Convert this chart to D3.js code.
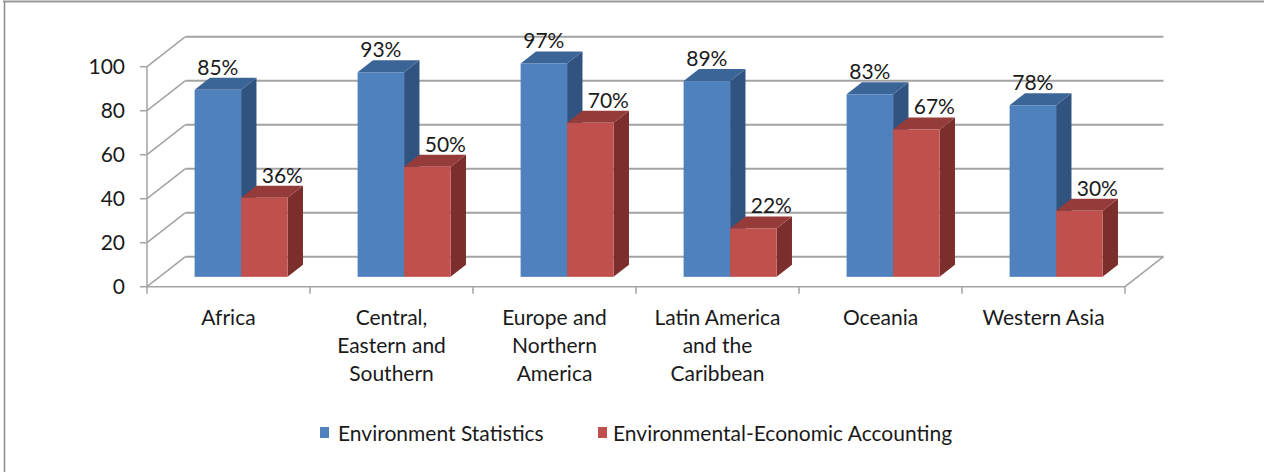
<!DOCTYPE html>
<html>
<head>
<meta charset="utf-8">
<script src="https://cdn.jsdelivr.net/npm/d3@7/dist/d3.min.js"></script>
<style>
  html, body { margin: 0; padding: 0; background: #fff; }
  svg { display: block; }
  text { font-family: Lato, "Open Sans", sans-serif; fill: #1a1a1a; }
</style>
</head>
<body>
<svg id="chart" width="1264" height="472"></svg>
<script>
// Regions and the share of countries (%) with each programme
const categories = [
  ["Africa"],
  ["Central,", "Eastern and", "Southern"],
  ["Europe and", "Northern", "America"],
  ["Latin America", "and the", "Caribbean"],
  ["Oceania"],
  ["Western Asia"]
];
const seriesNames = ["Environment Statistics", "Environmental-Economic Accounting"];
const envStats = [85, 93, 97, 89, 83, 78];
const eeaValues = [36, 50, 70, 22, 67, 30];
const yTicks = [0, 20, 40, 60, 80, 100];

const series = [envStats, eeaValues];
const faceColors = [
  { front: "#4F81BD", top: "#3C6597", side: "#31537F" },
  { front: "#C0504D", top: "#953B39", side: "#7C2E2C" }
];
// horizontal nudge of each series' value labels
const labelShift = [0, 18];
const fontSize = "21px";

const svg = d3.select("#chart");

// Outer frame (top and left edges)
svg.append("line").attr("x1", 3).attr("x2", 1264).attr("y1", 1.5).attr("y2", 1.5)
  .attr("stroke", "#9a9a9a").attr("stroke-width", 2);
svg.append("line").attr("x1", 4.5).attr("x2", 4.5).attr("y1", 1).attr("y2", 472)
  .attr("stroke", "#8a8a8a").attr("stroke-width", 1.5);

// Front plane of the 3-D box
const x0 = 147, x1 = 1125;
const y = d3.scaleLinear().domain([0, 100]).range([286.7, 66.7]);
const xBand = d3.scaleBand().domain(d3.range(categories.length)).range([x0, x1]);

// Oblique depth direction
const ang = 38 * Math.PI / 180;
const depth = d => [d * Math.cos(ang), -d * Math.sin(ang)];
const wallDepth = 48.8;
const [wdx, wdy] = depth(wallDepth);

const grid = svg.append("g").attr("stroke", "#a3a3a3").attr("fill", "none");

// Back wall gridlines + left wall diagonals
yTicks.forEach(t => {
  grid.append("line")
    .attr("x1", x0 + wdx).attr("x2", x1 + wdx)
    .attr("y1", y(t) + wdy).attr("y2", y(t) + wdy)
    .attr("stroke-width", 2);
  grid.append("line")
    .attr("x1", x0).attr("y1", y(t))
    .attr("x2", x0 + wdx).attr("y2", y(t) + wdy)
    .attr("stroke-width", 1.5);
});
// Floor right edge
grid.append("line")
  .attr("x1", x1).attr("y1", y(0))
  .attr("x2", x1 + wdx).attr("y2", y(0) + wdy)
  .attr("stroke-width", 1.5);

// Vertical value axis with ticks and labels
const yAxis = svg.append("g");
yAxis.append("line").attr("x1", x0).attr("x2", x0).attr("y1", y(100)).attr("y2", y(0))
  .attr("stroke", "#a3a3a3").attr("stroke-width", 1.5);
yTicks.forEach(t => {
  yAxis.append("line").attr("x1", x0 - 7).attr("x2", x0).attr("y1", y(t)).attr("y2", y(t))
    .attr("stroke", "#a3a3a3").attr("stroke-width", 1.5);
  yAxis.append("text").attr("x", 125).attr("y", y(t)).attr("dy", "0.36em")
    .attr("text-anchor", "end").style("font-size", fontSize).text(t);
});

// Category axis with ticks at band boundaries
const xAxis = svg.append("g");
xAxis.append("line").attr("x1", x0).attr("x2", x1).attr("y1", y(0)).attr("y2", y(0))
  .attr("stroke", "#a3a3a3").attr("stroke-width", 1.5);
d3.range(categories.length + 1).forEach(i => {
  const xx = x0 + i * xBand.bandwidth();
  xAxis.append("line").attr("x1", xx).attr("x2", xx).attr("y1", y(0)).attr("y2", y(0) + 7)
    .attr("stroke", "#a3a3a3").attr("stroke-width", 1.5);
});
categories.forEach((lines, i) => {
  const t = xAxis.append("text").attr("text-anchor", "middle").style("font-size", fontSize);
  lines.forEach((ln, j) => {
    t.append("tspan").attr("x", xBand(i) + xBand.bandwidth() / 2)
      .attr("y", 325 + j * 28).text(ln);
  });
});

// Bars: front face sits part-way into the box, with a shallow depth
const [fdx, fdy] = depth(16);
const [bdx, bdy] = depth(19.5);
const inner = d3.scaleBand().domain([0, 1])
  .range([xBand.bandwidth() / 2 - 46.5, xBand.bandwidth() / 2 + 46.5]);

const bars = svg.append("g");
const labels = svg.append("g");
categories.forEach((_, i) => {
  series.forEach((vals, s) => {
    const v = vals[i];
    const c = faceColors[s];
    const xl = xBand(i) + inner(s) + fdx;
    const xr = xl + inner.bandwidth();
    const yb = y(0) + fdy;
    const yt = y(v) + fdy;
    // right side
    bars.append("path")
      .attr("d", `M${xr},${yb}L${xr + bdx},${yb + bdy}L${xr + bdx},${yt + bdy}L${xr},${yt}Z`)
      .attr("fill", c.side);
    // top
    bars.append("path")
      .attr("d", `M${xl},${yt}L${xl + bdx},${yt + bdy}L${xr + bdx},${yt + bdy}L${xr},${yt}Z`)
      .attr("fill", c.top);
    // front
    bars.append("rect")
      .attr("x", xl).attr("y", yt).attr("width", xr - xl).attr("height", yb - yt)
      .attr("fill", c.front);
    labels.append("text")
      .attr("x", (xl + xr) / 2 + labelShift[s]).attr("y", yt - 15)
      .attr("text-anchor", "middle").style("font-size", fontSize)
      .text(v + "%");
  });
});

// Legend
const legend = svg.append("g");
const legendItems = [
  { x: 320, textX: 338 },
  { x: 598, textX: 613 }
];
seriesNames.forEach((name, s) => {
  legend.append("rect").attr("x", legendItems[s].x).attr("y", 427)
    .attr("width", 9).attr("height", 11).attr("fill", faceColors[s].front);
  legend.append("text").attr("x", legendItems[s].textX).attr("y", 433).attr("dy", "0.36em")
    .style("font-size", fontSize).text(name);
});
</script>
</body>
</html>
